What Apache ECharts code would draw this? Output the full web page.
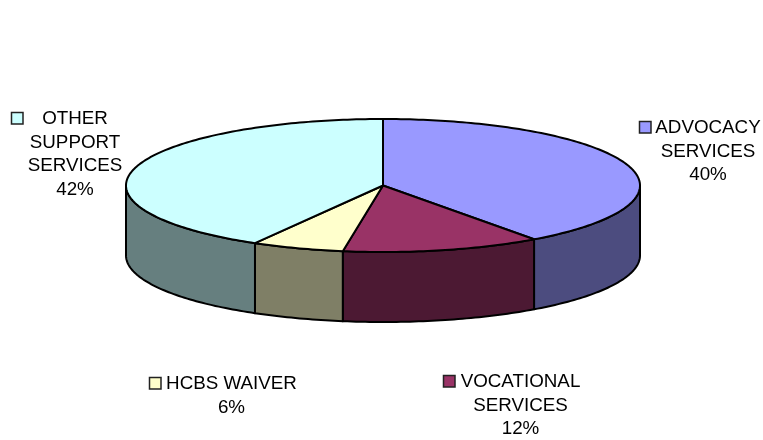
<!DOCTYPE html>
<html><head><meta charset="utf-8">
<style>html,body{margin:0;padding:0;background:#fff}#c{width:763px;height:440px}</style>
<script src="https://cdn.jsdelivr.net/npm/echarts@6/dist/echarts.min.js"></script>
</head><body><div id="c"></div>
<script>
const categories = ['ADVOCACY\nSERVICES', 'VOCATIONAL\nSERVICES', 'HCBS WAIVER', 'OTHER\nSUPPORT\nSERVICES'];
const values = [40.0, 12.5, 5.8, 41.7];
const percentLabels = ['40%', '12%', '6%', '42%'];
const topColors = ['#9999FF', '#993366', '#FFFFCC', '#CCFFFF'];
const sideColors = ['#4C4C7F', '#4C1933', '#7F7F66', '#667F7F'];

const cx = 383, cy = 185.5, rx = 257, ry = 66.5, depth = 70;
const labelBoxes = [
  { x: 708, y: 116, kx: 639, ky: 121 },
  { x: 520.5, y: 370, kx: 443, ky: 375 },
  { x: 231.5, y: 372, kx: 149, ky: 377 },
  { x: 75, y: 107, kx: 11, ky: 112 }
];
const total = values.reduce((a, b) => a + b, 0);
function pt(deg, dy) {
  const t = deg * Math.PI / 180;
  return [cx + rx * Math.sin(t), cy - ry * Math.cos(t) + (dy || 0)];
}
function arc(a, b, dy) {
  const n = Math.max(2, Math.ceil(Math.abs(b - a)));
  const out = [];
  for (let i = 0; i <= n; i++) out.push(pt(a + (b - a) * i / n, dy));
  return out;
}
const lineStyle = { stroke: '#000', lineWidth: 2, lineJoin: 'round' };
const chart = echarts.init(document.getElementById('c'), null, { renderer: 'canvas' });
chart.setOption({
  animation: false,
  backgroundColor: '#fff',
  series: [{
    type: 'custom',
    coordinateSystem: 'none',
    silent: true,
    data: values.map((v, i) => [v, i]),
    renderItem: function (params, api) {
      const i = api.value(1);
      let start = 0;
      for (let k = 0; k < i; k++) start += values[k];
      const a0 = start / total * 360, a1 = (start + api.value(0)) / total * 360;
      const children = [];
      const s0 = Math.max(a0, 90), s1 = Math.min(a1, 270);
      if (s1 > s0) {
        children.push({
          type: 'polygon', z2: 1,
          shape: { points: arc(s0, s1, 0).concat(arc(s1, s0, depth)) },
          style: Object.assign({ fill: sideColors[i] }, lineStyle)
        });
      }
      children.push({
        type: 'polygon', z2: 2,
        shape: { points: [[cx, cy]].concat(arc(a0, a1, 0)) },
        style: Object.assign({ fill: topColors[i] }, lineStyle)
      });
      const b = labelBoxes[i];
      children.push({
        type: 'rect', z2: 3,
        shape: { x: b.kx + 0.5, y: b.ky + 0.5, width: 11.5, height: 11.5 },
        style: { fill: topColors[i], stroke: '#222', lineWidth: 1.5 }
      });
      children.push({
        type: 'text', z2: 3,
        x: b.x, y: b.y,
        style: {
          text: categories[i] + '\n' + percentLabels[i],
          fill: '#000', align: 'center', verticalAlign: 'top',
          font: '18.8px "Liberation Sans", Arial, sans-serif', lineHeight: 23.7
        }
      });
      return { type: 'group', children };
    }
  }]
});
</script></body></html>
